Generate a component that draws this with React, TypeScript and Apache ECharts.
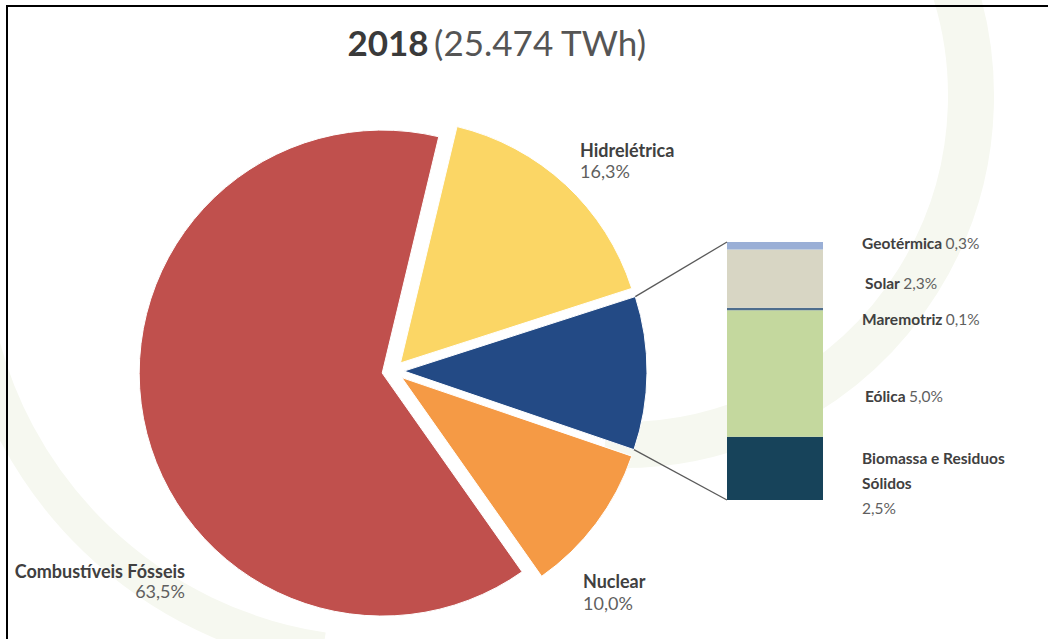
import React, { useEffect, useRef } from "react";
import * as echarts from "echarts";

// ---- data ----
const titleYear = "2018";
const titleTotal = "(25.474 TWh)";

const pieNames = ["Hidrelétrica", "Outras renováveis", "Nuclear", "Combustíveis Fósseis"];
const pieValues = [16.3, 10.2, 10.0, 63.5];
const pieColors = ["#fbd665", "#234a85", "#f59a45", "#c0504d"];

// stacked from bottom to top
const barNames = ["Biomassa e Residuos Sólidos", "Eólica", "Maremotriz", "Solar", "Geotérmica"];
const barValues = [2.5, 5.0, 0.1, 2.3, 0.3];
const barColors = ["#17435a", "#c4d89e", "#4e6d8c", "#d8d6c4", "#9aafd6"];

// ---- layout ----
const W = 1048;
const H = 639;
const FONT = "Lato, 'Open Sans', sans-serif";
const PIE_CENTER = [393, 371];
const PIE_R = 243;
const PIE_OFFSET = 11;
const BLUE_MID_ANGLE = -0.5;
const BAR_BOX = { left: 727, top: 242, width: 96, height: 258 };

const pieLabelPos: Record<string, { x: number; y: number; align: string; lh: number }> = {
  "Hidrelétrica": { x: 580, y: 139, align: "left", lh: 21 },
  "Nuclear": { x: 583, y: 570, align: "left", lh: 22 },
  "Combustíveis Fósseis": { x: 185, y: 561, align: "right", lh: 20 },
};
const barLabelPos = [
  { x: 862, y: 445, va: "top" },
  { x: 865, y: 396, va: "middle" },
  { x: 862, y: 319, va: "middle" },
  { x: 865, y: 283, va: "middle" },
  { x: 862, y: 243, va: "middle" },
];

const fmt = (v: number) => v.toFixed(1).replace(".", ",") + "%";
const rad = (d: number) => (d * Math.PI) / 180;

const NAME_COLOR = "#404040";
const VALUE_COLOR = "#5f5f5f";
const DECOR = "#f6f8f0";

export default function App() {
  const ref = useRef<HTMLDivElement>(null);
  useEffect(() => {
    if (!ref.current) return;
    const chart = echarts.init(ref.current, undefined, { renderer: "svg" });
    const pieTotal = pieValues.reduce((a, b) => a + b, 0);
    const barTotal = barValues.reduce((a, b) => a + b, 0);
    const startAngle = BLUE_MID_ANGLE + ((pieValues[0] + pieValues[1] / 2) / pieTotal) * 360;

    const barRich = {
      n: { fontFamily: FONT, fontSize: 15.5, fontWeight: "bold", color: NAME_COLOR, lineHeight: 25 },
      v: { fontFamily: FONT, fontSize: 15.5, fontWeight: "normal", color: VALUE_COLOR, lineHeight: 25 },
    };

    const barSeries = barNames.map((name, i) => ({
      type: "bar",
      name,
      stack: "outras",
      barWidth: BAR_BOX.width,
      data: [barValues[i]],
      itemStyle: { color: barColors[i] },
      emphasis: { disabled: true },
      label: {
        show: true,
        formatter: () => {
          if (name.length > 16) {
            const k = name.lastIndexOf(" ");
            return `{n|${name.slice(0, k)}}\n{n|${name.slice(k + 1)}}\n{v|${fmt(barValues[i])}}`;
          }
          return `{n|${name}} {v|${fmt(barValues[i])}}`;
        },
        rich: barRich,
      },
      labelLayout: () => ({
        x: barLabelPos[i].x,
        y: barLabelPos[i].y,
        align: "left",
        verticalAlign: barLabelPos[i].va,
      }),
    }));

    chart.setOption({
      animation: false,
      backgroundColor: "#ffffff",
      title: {
        text: `{b|${titleYear}} {r|${titleTotal}}`,
        left: 492,
        top: 19,
        textAlign: "center",
        textStyle: {
          fontWeight: "normal",
          rich: {
            b: { fontFamily: FONT, fontSize: 35, fontWeight: "bold", color: "#3a3a3a" },
            r: { fontFamily: FONT, fontSize: 35, fontWeight: "normal", color: "#555555" },
          },
        },
      },
      grid: { left: BAR_BOX.left, top: BAR_BOX.top, width: BAR_BOX.width, height: BAR_BOX.height },
      xAxis: { type: "category", data: [""], show: false },
      yAxis: { type: "value", min: 0, max: barTotal, show: false },
      series: [
        {
          type: "pie",
          center: PIE_CENTER,
          radius: PIE_R,
          startAngle,
          clockwise: true,
          selectedMode: "multiple",
          selectedOffset: PIE_OFFSET,
          itemStyle: { borderColor: "#ffffff", borderWidth: 1 },
          select: { itemStyle: { borderColor: "#ffffff", borderWidth: 1 } },
          emphasis: { disabled: true },
          label: { show: false },
          labelLine: { show: false },
          data: pieNames.map((name, i) => ({
            name,
            value: pieValues[i],
            selected: true,
            itemStyle: { color: pieColors[i] },
          })),
        },
        ...barSeries,
      ],
    });

    // connector lines between the exploded slice and the stacked bar
    const a1 = startAngle - (pieValues[0] / pieTotal) * 360;
    const a2 = a1 - (pieValues[1] / pieTotal) * 360;
    const mid = (a1 + a2) / 2;
    const ox = PIE_CENTER[0] + PIE_OFFSET * Math.cos(rad(mid));
    const oy = PIE_CENTER[1] - PIE_OFFSET * Math.sin(rad(mid));
    const p1 = [ox + PIE_R * Math.cos(rad(a1)), oy - PIE_R * Math.sin(rad(a1))];
    const p2 = [ox + PIE_R * Math.cos(rad(a2)), oy - PIE_R * Math.sin(rad(a2))];
    const top = chart.convertToPixel({ xAxisIndex: 0, yAxisIndex: 0 }, [0, barTotal]) as number[];
    const bot = chart.convertToPixel({ xAxisIndex: 0, yAxisIndex: 0 }, [0, 0]) as number[];
    const barLeft = top[0] - BAR_BOX.width / 2;

    const pieLabels = pieNames
      .map((name, i) => ({ name, i, pos: pieLabelPos[name] }))
      .filter((o) => !!o.pos)
      .map(({ name, i, pos }) => ({
        type: "text",
        z: 20,
        silent: true,
        x: pos.x,
        y: pos.y,
        style: {
          text: `{n|${name}}\n{v|${fmt(pieValues[i])}}`,
          align: pos.align,
          verticalAlign: "top",
          rich: {
            n: { fontFamily: FONT, fontSize: 18, fontWeight: "bold", fill: NAME_COLOR, lineHeight: pos.lh, align: pos.align },
            v: { fontFamily: FONT, fontSize: 18, fontWeight: "normal", fill: VALUE_COLOR, lineHeight: pos.lh, align: pos.align },
          },
        },
      }));

    chart.setOption({
      graphic: [
        {
          type: "arc",
          z: -10,
          silent: true,
          shape: { cx: 622, cy: 96, r: 349, startAngle: -0.5, endAngle: 1.62, clockwise: true },
          style: { stroke: DECOR, lineWidth: 46, fill: null },
        },
        {
          type: "arc",
          z: -10,
          silent: true,
          shape: { cx: 385, cy: 238, r: 417, startAngle: 1.72, endAngle: 2.95, clockwise: true },
          style: { stroke: DECOR, lineWidth: 36, fill: null },
        },
        {
          type: "line",
          z: 5,
          silent: true,
          shape: { x1: p1[0], y1: p1[1], x2: barLeft, y2: top[1] },
          style: { stroke: "#5a5a5a", lineWidth: 1.3 },
        },
        {
          type: "line",
          z: 5,
          silent: true,
          shape: { x1: p2[0], y1: p2[1], x2: barLeft, y2: bot[1] },
          style: { stroke: "#5a5a5a", lineWidth: 1.3 },
        },
        ...pieLabels,
        {
          type: "rect",
          z: 10,
          silent: true,
          shape: { x: 7, y: 6, width: W + 20, height: H + 20 },
          style: { stroke: "#000000", lineWidth: 2, fill: null },
        },
      ],
    });

    return () => chart.dispose();
  }, []);
  return <div ref={ref} style={{ position: "fixed", left: 0, top: 0, width: W, height: H }} />;
}
